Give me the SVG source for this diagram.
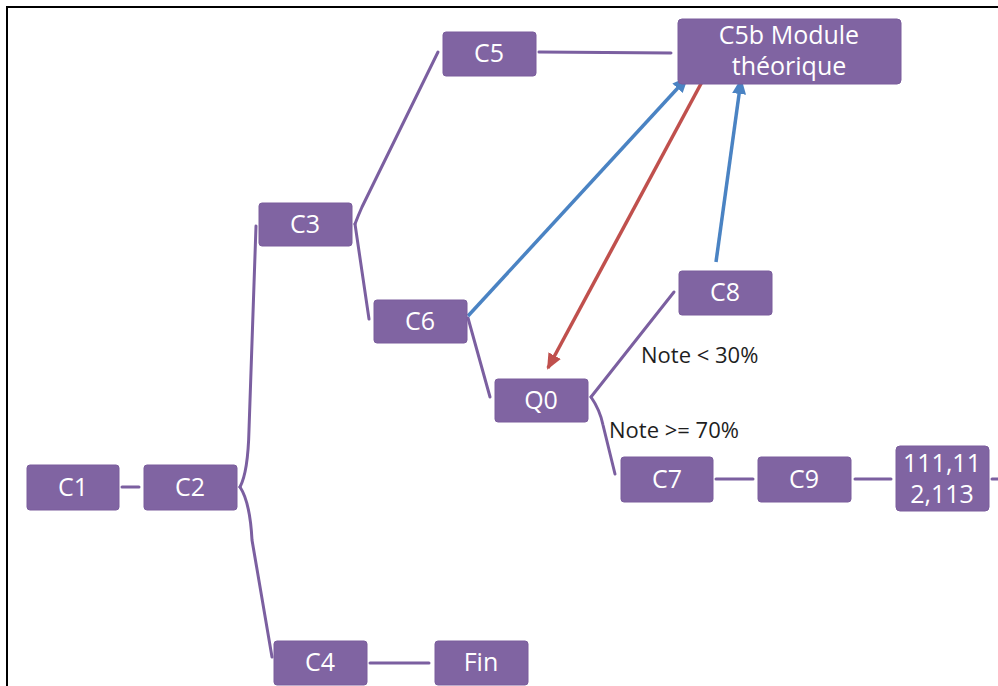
<svg xmlns="http://www.w3.org/2000/svg" width="998" height="686" viewBox="0 0 998 686">
<defs>
<style>
.n rect{fill:#8064a2;stroke:#7a5d9c;stroke-width:1}
.n text{fill:#fff;font-family:"Open Sans","Liberation Sans",sans-serif;font-size:25px;text-anchor:middle}
.c path{fill:none;stroke:#7b5fa0;stroke-width:3;stroke-linecap:round}
.lbl{fill:#1e1e1e;font-family:"Open Sans","Liberation Sans",sans-serif;font-size:22px}
.b{stroke:#4a83c3;stroke-width:3.5;fill:none}
.r{stroke:#c0504d;stroke-width:3.5;fill:none}
</style>
<marker id="ab" markerUnits="userSpaceOnUse" markerWidth="16" markerHeight="14" refX="14" refY="7" orient="auto"><path d="M0,0 L16,7 L0,14 Z" fill="#4a83c3"/></marker>
<marker id="ar" markerUnits="userSpaceOnUse" markerWidth="16" markerHeight="14" refX="14" refY="7" orient="auto"><path d="M0,0 L16,7 L0,14 Z" fill="#c0504d"/></marker>
</defs>
<rect width="998" height="686" fill="#fff"/>
<path d="M7,686 L7,7 L998,7" fill="none" stroke="#000" stroke-width="2"/>
<g id="connectors">
<g class="c">
<path d="M122,487 L139,487"/>
<path d="M240,487 Q248,472 249,430 L256,226"/>
<path d="M240,487 Q250,502 252,540 L272,657"/>
<path d="M355,224 Q358,216 362,207 L438,52"/>
<path d="M355,224 L369,319"/>
<path d="M539,52 L671,53"/>
<path d="M468,318 L490,397"/>
<path d="M591,397 L674,292"/>
<path d="M591,397 Q600,410 603,425 L615,474"/>
<path d="M716,479 L753,479"/>
<path d="M855,479 L891,479"/>
<path d="M992,479 L998,479"/>
<path d="M370,663 L429,663"/>
</g>
<path class="b" d="M468,316 L687,78" marker-end="url(#ab)"/>
<path class="r" d="M703,80 L548,368" marker-end="url(#ar)"/>
<path class="b" d="M716,262 L741,80" marker-end="url(#ab)"/>
<text class="lbl" x="641" y="363">Note &lt; 30%</text>
<text class="lbl" x="609" y="438">Note &gt;= 70%</text>
</g>
<g id="C1" class="n"><rect x="27" y="465" width="92" height="45" rx="3"/><text x="73" y="496">C1</text></g>
<g id="C2" class="n"><rect x="144" y="465" width="93" height="45" rx="3"/><text x="190" y="496">C2</text></g>
<g id="C3" class="n"><rect x="259" y="203" width="93" height="43" rx="3"/><text x="305" y="233">C3</text></g>
<g id="C4" class="n"><rect x="274" y="641" width="93" height="44" rx="3"/><text x="320" y="671">C4</text></g>
<g id="Fin" class="n"><rect x="435" y="641" width="93" height="44" rx="3"/><text x="481" y="671">Fin</text></g>
<g id="C5" class="n"><rect x="443" y="32" width="93" height="44" rx="3"/><text x="489" y="62">C5</text></g>
<g id="C5b" class="n"><rect x="678" y="19" width="223" height="65" rx="4"/><text x="789" y="44">C5b Module</text><text x="789" y="75">théorique</text></g>
<g id="C6" class="n"><rect x="374" y="300" width="93" height="43" rx="3"/><text x="420" y="330">C6</text></g>
<g id="Q0" class="n"><rect x="495" y="379" width="93" height="43" rx="3"/><text x="541" y="409">Q0</text></g>
<g id="C8" class="n"><rect x="679" y="271" width="93" height="44" rx="3"/><text x="725" y="301">C8</text></g>
<g id="C7" class="n"><rect x="621" y="457" width="92" height="45" rx="3"/><text x="667" y="488">C7</text></g>
<g id="C9" class="n"><rect x="758" y="457" width="93" height="45" rx="3"/><text x="804" y="488">C9</text></g>
<g id="N111" class="n"><rect x="896" y="446" width="93" height="65" rx="4"/><text x="942" y="472">111,11</text><text x="942" y="503">2,113</text></g>
</svg>
